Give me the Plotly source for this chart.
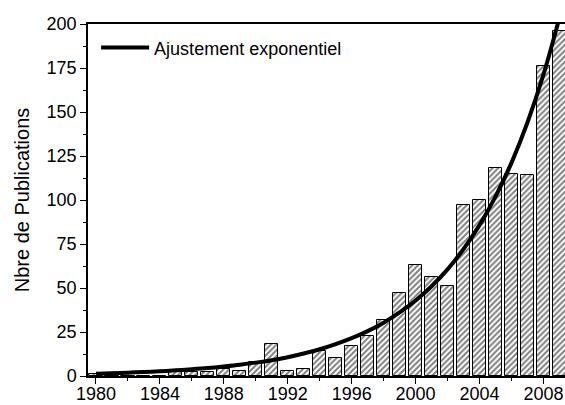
import plotly.graph_objects as go

years = list(range(1980, 2010))
publications = [1, 1, 0, 0, 0, 2, 2, 2, 4, 3,
                8, 18, 3, 4, 14, 10, 17, 23, 32, 47,
                63, 56, 51, 97, 100, 118, 115, 114, 176, 196]
fit_values = [1.3, 1.6, 1.9, 2.3, 2.7, 3.2, 3.8, 4.5, 5.4, 6.4,
              7.6, 9.0, 10.7, 12.8, 15.2, 18.1, 21.5, 25.5, 30.3, 36.1,
              42.9, 51.0, 60.6, 72.1, 85.7, 101.9, 121.1, 144.0, 171.2, 203.5]
x_tick_vals = [1980, 1984, 1988, 1992, 1996, 2000, 2004, 2008]
y_tick_vals = [0, 25, 50, 75, 100, 125, 150, 175, 200]
fit_label = "Ajustement exponentiel"
y_title = "Nbre de Publications"

FONT = "Liberation Sans, Arial, sans-serif"

fig = go.Figure()
fig.add_trace(go.Bar(
    x=years, y=publications, width=0.82, showlegend=False,
    marker=dict(color="white", line=dict(color="black", width=1),
                pattern=dict(shape="/", fgcolor="black", bgcolor="white",
                             size=4, solidity=0.5)),
))
fig.add_trace(go.Scatter(
    x=years, y=fit_values, mode="lines", name=fit_label,
    line=dict(color="black", width=4, shape="spline"),
))

fig.update_layout(
    width=565, height=405,
    margin=dict(l=88, r=0, t=24, b=29, autoexpand=False),
    paper_bgcolor="white", plot_bgcolor="white",
    font=dict(family=FONT, size=18, color="black"),
    bargap=0,
    legend=dict(x=0.017, y=0.985, xanchor="left", yanchor="top",
                bgcolor="rgba(0,0,0,0)", font=dict(size=18), itemwidth=48),
)
fig.update_xaxes(
    range=[1979.5, 2009.35], tickvals=x_tick_vals, automargin=False,
    ticks="outside", ticklen=6, tickwidth=1, tickcolor="black",
    ticklabelstandoff=-5,
    minor=dict(dtick=2, tick0=1980, ticks="outside", ticklen=3, tickcolor="black"),
    showline=True, linecolor="black", linewidth=1.5, mirror=True,
    showgrid=False, zeroline=False, tickfont=dict(size=18),
)
fig.update_yaxes(
    range=[0, 200], tickvals=y_tick_vals, automargin=False,
    ticks="outside", ticklen=6, tickwidth=1, tickcolor="black",
    minor=dict(dtick=12.5, tick0=0, ticks="outside", ticklen=3, tickcolor="black"),
    showline=True, linecolor="black", linewidth=1.5,
    showgrid=False, zeroline=False, tickfont=dict(size=18),
    title=dict(text=y_title, font=dict(size=20), standoff=12),
)

fig.write_html("out.html", config={"displayModeBar": False},
               post_script="document.body.style.margin='0';document.body.style.overflow='hidden';")
